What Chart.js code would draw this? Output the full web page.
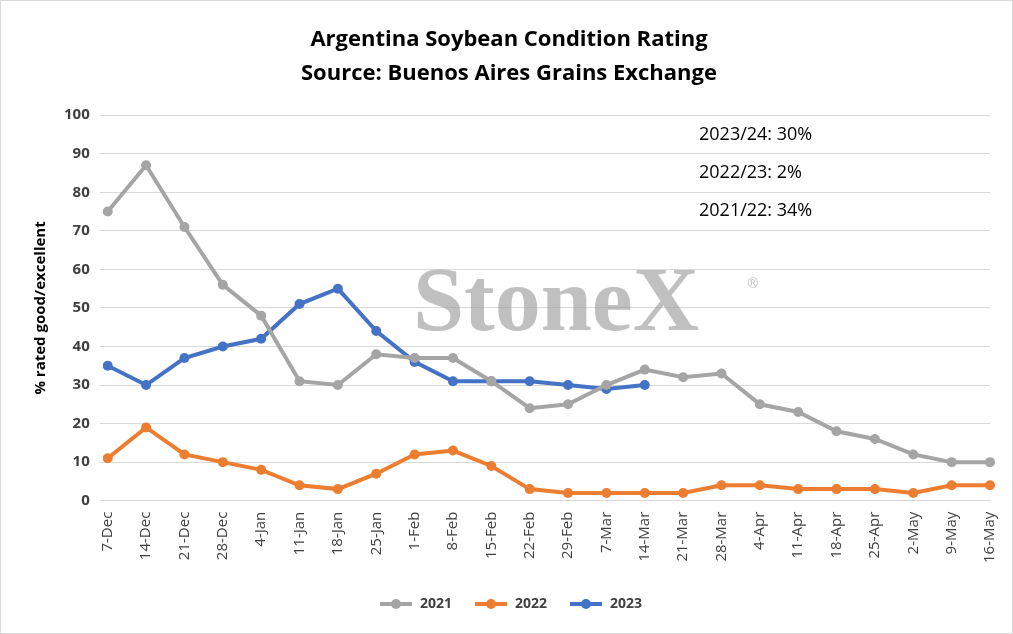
<!DOCTYPE html>
<html><head><meta charset="utf-8">
<script src="https://cdn.jsdelivr.net/npm/chart.js@4"></script>
<style>
html,body{margin:0;padding:0;background:#fff}
#wrap{position:relative;width:1011px;height:632px;border:1px solid #d9d9d9}
</style></head><body>
<div id="wrap"><canvas id="c" width="1011" height="632"></canvas></div>
<script>
const labels = ["7-Dec","14-Dec","21-Dec","28-Dec","4-Jan","11-Jan","18-Jan","25-Jan","1-Feb","8-Feb","15-Feb","22-Feb","29-Feb","7-Mar","14-Mar","21-Mar","28-Mar","4-Apr","11-Apr","18-Apr","25-Apr","2-May","9-May","16-May"];
const s2021 = [75,87,71,56,48,31,30,38,37,37,31,24,25,30,34,32,33,25,23,18,16,12,10,10];
const s2022 = [11,19,12,10,8,4,3,7,12,13,9,3,2,2,2,2,4,4,3,3,3,2,4,4];
const s2023 = [35,30,37,40,42,51,55,44,36,31,31,31,30,29,30];
const notes = ["2023/24: 30%","2022/23: 2%","2021/22: 34%"];

const overlay = {
  id: 'overlay',
  beforeDatasetsDraw(chart) {
    const {ctx} = chart;
    ctx.save();
    ctx.font = 'bold 92px "Liberation Serif", serif';
    ctx.fillStyle = 'rgba(150,150,150,0.6)';
    ctx.textAlign = 'center'; ctx.textBaseline = 'middle';
    ctx.fillText('StoneX', 555, 305);
    ctx.font = '14px sans-serif';
    ctx.fillText('®', 752, 283);
    ctx.restore();
  },
  afterDatasetsDraw(chart) {
    const {ctx} = chart;
    ctx.save();
    ctx.font = '18px "Open Sans", sans-serif';
    ctx.fillStyle = '#000'; ctx.textBaseline = 'middle';
    notes.forEach((t, i) => ctx.fillText(t, 698, 134 + i * 38));
    // legend
    let x = 379;
    ctx.font = 'bold 14px "Open Sans", sans-serif';
    chart.data.datasets.forEach(ds => {
      ctx.strokeStyle = ds.borderColor; ctx.fillStyle = ds.borderColor; ctx.lineWidth = 4;
      ctx.beginPath(); ctx.moveTo(x, 603); ctx.lineTo(x + 32, 603); ctx.stroke();
      ctx.beginPath(); ctx.arc(x + 16, 603, 5, 0, Math.PI * 2); ctx.fill();
      ctx.fillStyle = '#404040';
      ctx.fillText(ds.label, x + 40, 603);
      x += 95;
    });
    ctx.restore();
  }
};

new Chart(document.getElementById('c'), {
  type: 'line',
  data: { labels, datasets: [
    { label: '2021', data: s2021, borderColor: '#a5a5a5', backgroundColor: '#a5a5a5' },
    { label: '2022', data: s2022, borderColor: '#ed7d31', backgroundColor: '#ed7d31' },
    { label: '2023', data: s2023, borderColor: '#4472c4', backgroundColor: '#4472c4' }
  ]},
  options: {
    responsive: false, animation: false,
    layout: { padding: { left: 27, right: 22, top: 10, bottom: 67 } },
    elements: { line: { borderWidth: 4, tension: 0 }, point: { radius: 5, borderWidth: 0, hoverRadius: 5 } },
    plugins: {
      title: { display: true, text: ['Argentina Soybean Condition Rating', 'Source: Buenos Aires Grains Exchange'],
        color: '#000', font: { family: 'Open Sans', size: 22, weight: 'bold', lineHeight: 1.55 }, padding: { top: 12, bottom: 24 } },
      legend: { display: false }
    },
    scales: {
      x: { offset: false, grid: { display: false }, border: { color: '#d9d9d9' },
        ticks: { color: '#404040', font: { family: 'Open Sans', size: 15 }, maxRotation: 90, minRotation: 90, autoSkip: false } },
      y: { min: 0, max: 100, grid: { color: '#d9d9d9' }, border: { display: false },
        ticks: { stepSize: 10, color: '#404040', font: { family: 'Open Sans', size: 15, weight: 'bold' }, padding: 10 },
        title: { display: true, text: '% rated good/excellent', color: '#000', font: { family: 'Open Sans', size: 15, weight: 'bold' } } }
    }
  },
  plugins: [overlay]
});
</script></body></html>
